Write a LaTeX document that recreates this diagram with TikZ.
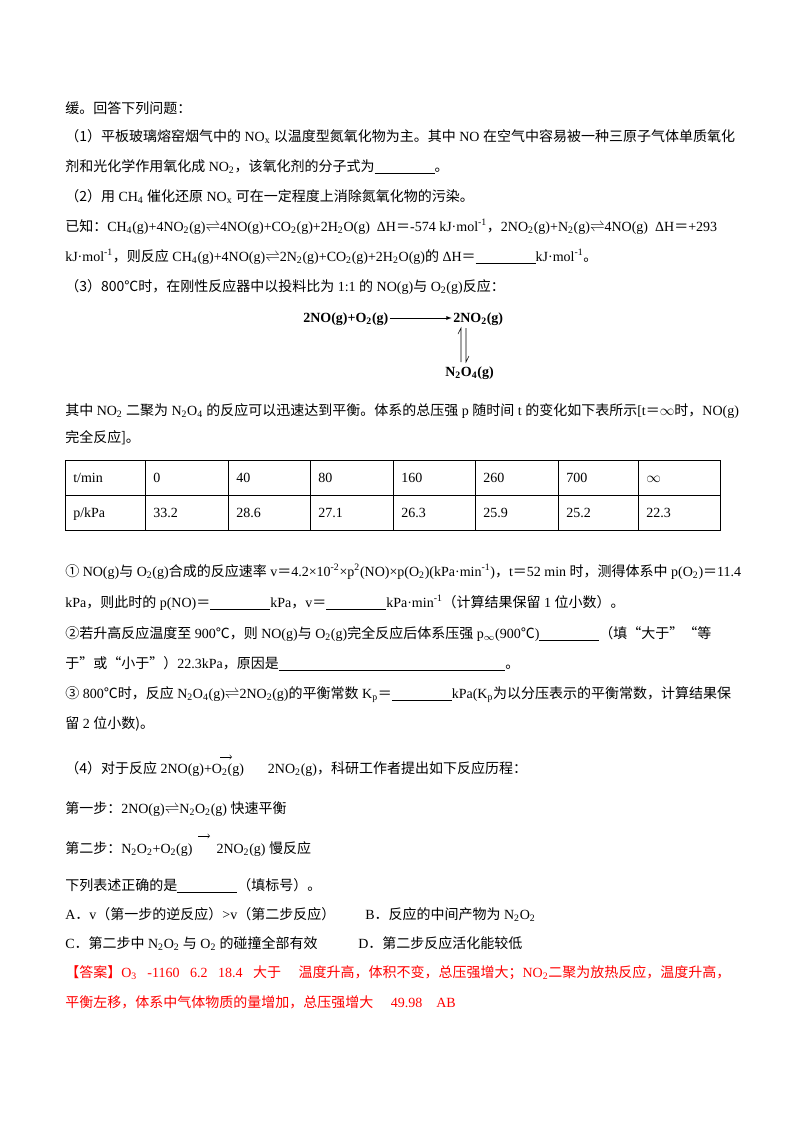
\documentclass[tikz,border=0pt]{standalone}
\usepackage{fontspec}
\setmainfont{Liberation Serif}
\newfontfamily\cjk{Noto Sans CJK SC}
\newcommand\zh[1]{{\cjk #1}}
\newcommand\dn[1]{\textsubscript{#1}}
\newcommand\up[1]{\textsuperscript{#1}}
\newcommand\bl{\underline{\hspace{45pt}}}
\newcommand\eq{$\rightleftharpoons$}
\newcommand\eqs{\zh{＝}}
\begin{document}
\begin{tikzpicture}[x=0.75pt,y=-0.75pt,
  T/.style={anchor=base west,inner sep=0pt,font=\fontsize{10.5pt}{12pt}\selectfont},
  R/.style={T,text=red},
  B/.style={T,font=\bfseries\fontsize{10.5pt}{12pt}\selectfont}]
\useasboundingbox (0,0) rectangle (800,1132);
\fill[white] (0,0) rectangle (800,1132);
\node[T] (l1) at (65,113) {\zh{缓。回答下列问题：}};
\node[T] (l2) at (65,141) {\zh{（1）平板玻璃熔窑烟气中的} NO\dn{x} \zh{以温度型氮氧化物为主。其中} NO \zh{在空气中容易被一种三原子气体单质氧化}};
\node[T] (l3) at (65,171) {\zh{剂和光化学作用氧化成} NO\dn{2}\zh{，该氧化剂的分子式为}\bl\zh{。}};
\node[T] (l4) at (65,201) {\zh{（2）用} CH\dn{4} \zh{催化还原} NO\dn{x} \zh{可在一定程度上消除氮氧化物的污染。}};
\node[T] (l5) at (65,231) {\zh{已知：}CH\dn{4}(g)+4NO\dn{2}(g)\eq4NO(g)+CO\dn{2}(g)+2H\dn{2}O(g) \ ΔH\eqs-574 kJ·mol\up{-1}\zh{，}2NO\dn{2}(g)+N\dn{2}(g)\eq4NO(g) \ ΔH\eqs+293};
\node[T] (l6) at (65,261) {kJ·mol\up{-1}\zh{，则反应} CH\dn{4}(g)+4NO(g)\eq2N\dn{2}(g)+CO\dn{2}(g)+2H\dn{2}O(g)\zh{的} ΔH\eqs\bl kJ·mol\up{-1}\zh{。}};
\node[T] (l7) at (65,291) {\zh{（3）800℃时，在刚性反应器中以投料比为} 1:1 \zh{的} NO(g)\zh{与} O\dn{2}(g)\zh{反应：}};
% scheme
\node[B] (r1) at (303,322) {2NO(g)+O\dn{2}(g)};
\node[B] (r2) at (453,322) {2NO\dn{2}(g)};
\node[B] (r3) at (445,376) {N\dn{2}O\dn{4}(g)};
\draw[-latex] ([xshift=1pt,yshift=3pt]r1.base east) -- ([xshift=-1pt,yshift=3pt]r2.base west);
\coordinate (v1) at (461,328); \coordinate (v2) at (461,362);
\coordinate (w1) at (466,328); \coordinate (w2) at (466,362);
\draw (v2) -- (v1) -- ++(-3,6);
\draw (w1) -- (w2) -- ++(3,-6);
\node[T] (l8) at (65,415) {\zh{其中} NO\dn{2} \zh{二聚为} N\dn{2}O\dn{4} \zh{的反应可以迅速达到平衡。体系的总压强} p \zh{随时间} t \zh{的变化如下表所示}[t\eqs$\infty$\zh{时，}NO(g)};
\node[T] (l9) at (65,442) {\zh{完全反应]。}};
% table
\draw (65,460) rectangle (720,530);
\draw (65,495) -- (720,495);
\foreach \x in {145,228,310,393,475,558,638} \draw (\x,460) -- (\x,530);
\foreach \x/\a/\b in {65/t\slash min/p\slash kPa,145/0/33.2,228/40/28.6,310/80/27.1,393/160/26.3,475/260/25.9,558/700/25.2,638/$\infty$/22.3}{
  \node[T] at (\x+8,482) {\a};
  \node[T] at (\x+8,517) {\b};}
\node[T] (m1) at (65,576) {\zh{①} NO(g)\zh{与} O\dn{2}(g)\zh{合成的反应速率} v\eqs4.2×10\up{-2}×p\up{2}(NO)×p(O\dn{2})(kPa·min\up{-1})\zh{，}t\eqs52 min \zh{时，测得体系中} p(O\dn{2})\eqs11.4};
\node[T] (m2) at (65,607) {kPa\zh{，则此时的} p(NO)\eqs\bl kPa\zh{，}v\eqs\bl kPa·min\up{-1}\zh{（计算结果保留} 1 \zh{位小数）。}};
\node[T] (m3) at (65,638) {\zh{②若升高反应温度至} 900\zh{℃，则} NO(g)\zh{与} O\dn{2}(g)\zh{完全反应后体系压强} p\dn{$\infty$}(900\zh{℃})\bl\zh{（填“大于”“等}};
\node[T] (m4) at (65,668) {\zh{于”或“小于”）}22.3kPa\zh{，原因是}\underline{\hspace{170pt}}\zh{。}};
\node[T] (m5) at (65,698) {\zh{③} 800\zh{℃时，反应} N\dn{2}O\dn{4}(g)\eq2NO\dn{2}(g)\zh{的平衡常数} K\dn{p}\eqs\bl kPa(K\dn{p}\zh{为以分压表示的平衡常数，计算结果保}};
\node[T] (m6) at (65,728) {\zh{留} 2 \zh{位小数)。}};
\node[T] (n1) at (65,773) {\zh{（4）对于反应} 2NO(g)+O\dn{2}(g)\hspace{18pt}2NO\dn{2}(g)\zh{，科研工作者提出如下反应历程：}};
\draw[->] (220,757) -- (232,757);
\node[T] (n2) at (65,813) {\zh{第一步：}2NO(g)\eq N\dn{2}O\dn{2}(g) \zh{快速平衡}};
\node[T] (n3) at (65,853) {\zh{第二步：}N\dn{2}O\dn{2}+O\dn{2}(g)\hspace{18pt}2NO\dn{2}(g) \zh{慢反应}};
\draw[->] (198,836) -- (210,836);
\node[T] (n4) at (65,890) {\zh{下列表述正确的是}\bl\zh{（填标号）。}};
\node[T] (o1) at (65,919) {A\zh{．}v\zh{（第一步的逆反应）}>v\zh{（第二步反应）}};
\node[T] (o2) at (365,919) {B\zh{．反应的中间产物为} N\dn{2}O\dn{2}};
\node[T] (o3) at (65,948) {C\zh{．第二步中} N\dn{2}O\dn{2} \zh{与} O\dn{2} \zh{的碰撞全部有效}};
\node[T] (o4) at (358,948) {D\zh{．第二步反应活化能较低}};
\node[R] (p1) at (65,977) {\zh{【答案】}O\dn{3} \ \ -1160 \ \ 6.2 \ \ 18.4 \ \ \zh{大于} \ \ \ \ \zh{温度升高，体积不变，总压强增大；}NO\dn{2}\zh{二聚为放热反应，温度升高，}};
\node[R] (p2) at (65,1007) {\zh{平衡左移，体系中气体物质的量增加，总压强增大} \ \ \ \ 49.98 \ \ \ AB};
\end{tikzpicture}
\end{document}
